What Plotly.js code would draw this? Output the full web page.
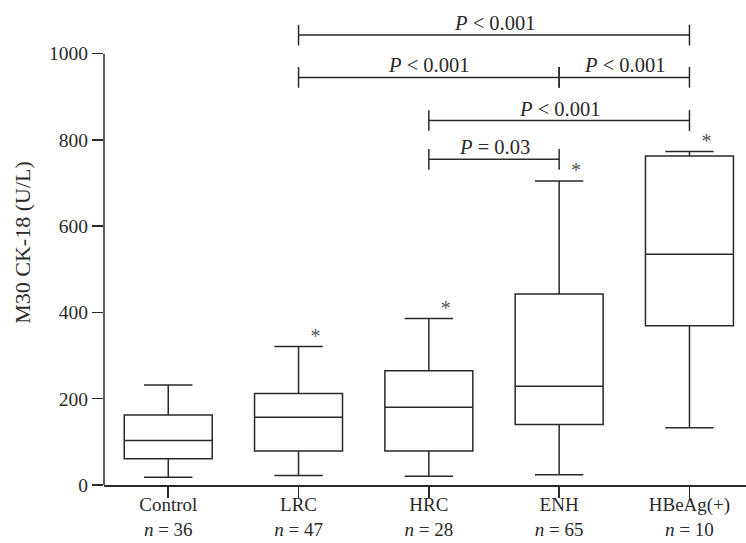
<!DOCTYPE html>
<html>
<head>
<meta charset="utf-8">
<script src="https://cdn.plot.ly/plotly-3.0.1.min.js"></script>
<style>
  html, body { margin: 0; padding: 0; background: #ffffff; }
  #chart { width: 746px; height: 543px; }
</style>
</head>
<body>
<div id="chart"></div>
<script>
// ---- data ----
const categories = ['Control', 'LRC', 'HRC', 'ENH', 'HBeAg(+)'];
const nValues = [36, 47, 28, 65, 10];
const lowerWhisker = [18, 22, 20, 24, 133];
const q1Values = [61, 79, 79, 140, 369];
const medianValues = [103, 157, 180, 229, 535];
const q3Values = [162, 212, 265, 443, 763];
const upperWhisker = [232, 321, 386, 705, 773];
// asterisk (outlier) marks: category index and value
const outlierCat = [1, 2, 3, 4];
const outlierValues = [340, 405, 726, 793];
// pairwise comparisons
const compFrom = [1, 1, 3, 2, 2];
const compTo = [4, 3, 4, 4, 3];
const compLevel = [1043, 945, 945, 845, 755];
const compLabel = ['<i>P</i> < 0.001', '<i>P</i> < 0.001', '<i>P</i> < 0.001', '<i>P</i> < 0.001', '<i>P</i> = 0.03'];
const yTicks = [0, 200, 400, 600, 800, 1000];

// ---- styling ----
const FONT = 'Liberation Serif, Times New Roman, serif';
const INK = '#2a2a2a';
const LW = 1.5;
const STAR_DX = 0.13;
const BRACKET_TICK = 24;

const xIdx = categories.map((c, i) => i);
const tickText = categories.map((c, i) => c + '<br><i>n</i> = ' + nValues[i]);

const boxTrace = {
  type: 'box',
  x: xIdx,
  q1: q1Values,
  median: medianValues,
  q3: q3Values,
  lowerfence: lowerWhisker,
  upperfence: upperWhisker,
  boxpoints: false,
  width: 0.675,
  whiskerwidth: 0.55,
  line: { color: INK, width: LW },
  fillcolor: 'rgba(0,0,0,0)',
  hoverinfo: 'skip',
  showlegend: false
};

const starTrace = {
  type: 'scatter',
  mode: 'text',
  x: outlierCat.map(i => i + STAR_DX),
  y: outlierValues,
  text: outlierValues.map(() => '*'),
  textposition: 'middle center',
  textfont: { family: FONT, size: 20, color: '#555' },
  cliponaxis: false,
  hoverinfo: 'skip',
  showlegend: false
};

const shapes = [];
const annotations = [];
// y-axis line only from 0 to 1000
shapes.push({ type: 'line', xref: 'paper', yref: 'y', x0: 0, x1: 0, y0: 0, y1: 1000,
  line: { color: INK, width: LW } });

compFrom.forEach((f, k) => {
  const t = compTo[k], lv = compLevel[k];
  shapes.push({ type: 'line', xref: 'x', yref: 'y', x0: f, x1: t, y0: lv, y1: lv, line: { color: INK, width: LW } });
  [f, t].forEach(xe => shapes.push({ type: 'line', xref: 'x', yref: 'y', x0: xe, x1: xe,
    y0: lv - BRACKET_TICK, y1: lv + BRACKET_TICK, line: { color: INK, width: LW } }));
  annotations.push({ xref: 'x', yref: 'y', x: (f + t) / 2, y: lv, yanchor: 'bottom', xanchor: 'center',
    text: compLabel[k], showarrow: false, yshift: -1,
    font: { family: FONT, size: 20.5, color: INK } });
});

const layout = {
  width: 746, height: 543,
  margin: { l: 104, r: 0, t: 0, b: 57.5, pad: 0 },
  paper_bgcolor: '#ffffff', plot_bgcolor: '#ffffff',
  font: { family: FONT, size: 19, color: INK },
  xaxis: {
    range: [-0.493, 4.434],
    tickvals: xIdx, ticktext: tickText,
    showline: true, linecolor: INK, linewidth: LW,
    ticks: 'outside', ticklen: 11, tickwidth: LW, tickcolor: INK,
    ticklabelstandoff: -9,
    showgrid: false, zeroline: false,
    tickfont: { family: FONT, size: 19, color: INK }
  },
  yaxis: {
    range: [0, 1124.4],
    tickvals: yTicks,
    showline: false,
    ticks: 'outside', ticklen: 11, tickwidth: LW, tickcolor: INK,
    showgrid: false, zeroline: false,
    tickfont: { family: FONT, size: 19.5, color: INK },
    title: { text: 'M30 CK-18 (U/L)', standoff: 12, font: { family: FONT, size: 22, color: INK } }
  },
  shapes: shapes,
  annotations: annotations,
  showlegend: false
};

Plotly.newPlot('chart', [boxTrace, starTrace], layout, { staticPlot: true, displayModeBar: false });
</script>
</body>
</html>
